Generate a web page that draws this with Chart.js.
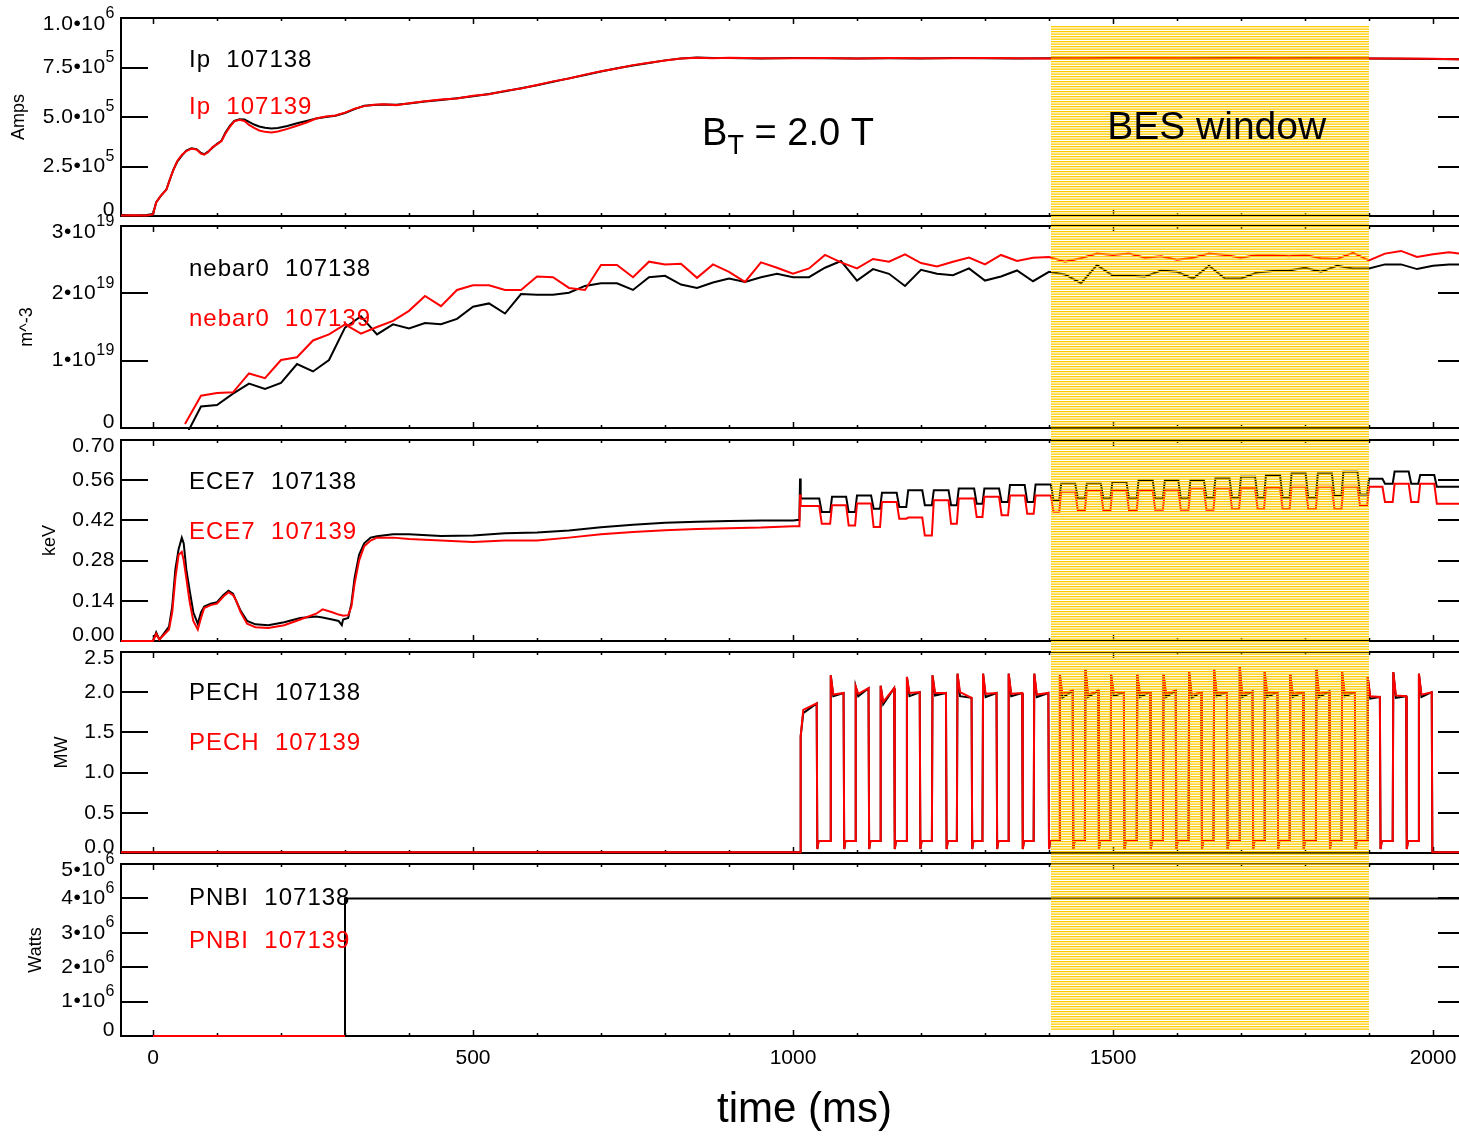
<!DOCTYPE html>
<html>
<head>
<meta charset="utf-8">
<title>Shots 107138 / 107139</title>
<script src="https://cdn.jsdelivr.net/npm/chart.js@4.4.1/dist/chart.umd.min.js"></script>
<style>
  html, body { margin: 0; padding: 0; background: #fff; overflow: hidden; }
  #page { position: relative; width: 1470px; height: 1136px; }
  .panel { position: absolute; left: 0; width: 1470px; }
  #overlay { position: absolute; left: 0; top: 0; z-index: 5; pointer-events: none; }
</style>
</head>
<body>
<div id="page"></div>
<script>
// ---- data ----
const shots = ['107138', '107139'];
const xTickValues = [0, 500, 1000, 1500, 2000];
const besWindow = [1403, 1900];

// Ip, in units of 1e5 A
const ipTime = [-50,-30,-10,0,5,12,21,27,32,38, 45,52,60,68,75,80,86,93,100,107,
  113,120,127,135,143,150,158,166,175,185, 195,210,225,240,255,270,285,300,315,330,
  345,360,380,400,425,450,475,500,525,550, 575,600,625,650,675,700,725,750,775,800,
  825,850,875,900,950,1000,1050,1100,1150,1200, 1250,1300,1350,1400,1450,1500,1550,1600,1650,1700,
  1750,1800,1850,1900,1950,2000,2050];
const ipBlack = [0.05,0.02,0.05,0.10,0.70,1.00,1.35,1.90,2.35,2.75, 3.05,3.30,3.42,3.38,3.18,3.12,3.25,3.45,3.65,3.80,
  4.20,4.55,4.80,4.88,4.87,4.75,4.62,4.52,4.46,4.42, 4.45,4.55,4.68,4.80,4.93,5.00,5.06,5.20,5.40,5.57,
  5.60,5.63,5.62,5.68,5.78,5.86,5.95,6.05,6.16,6.30, 6.45,6.60,6.78,6.95,7.12,7.30,7.46,7.60,7.73,7.86,
  7.95,8.00,7.98,7.98,7.96,7.98,7.97,7.95,7.97,7.96, 7.98,7.97,7.96,7.97,7.96,7.98,7.97,7.96,7.97,7.98,
  7.96,7.97,7.96,7.95,7.94,7.93,7.92];
const ipRed = [0.03,0.04,0.02,0.08,0.68,1.02,1.33,1.92,2.33,2.78, 3.08,3.28,3.40,3.36,3.15,3.10,3.22,3.48,3.62,3.78,
  4.15,4.50,4.78,4.86,4.80,4.60,4.45,4.32,4.25,4.22, 4.27,4.40,4.56,4.72,4.92,5.02,5.08,5.22,5.42,5.55,
  5.62,5.65,5.60,5.70,5.80,5.88,5.94,6.07,6.15,6.32, 6.44,6.62,6.80,6.94,7.14,7.31,7.45,7.62,7.74,7.85,
  7.96,7.99,7.97,7.99,7.97,7.97,7.98,7.96,7.98,7.97, 7.97,7.98,7.97,7.96,7.97,7.97,7.98,7.97,7.96,7.97,
  7.97,7.96,7.97,7.96,7.95,7.94,7.91];

// nebar0, in units of 1e19 m^-3
const nebarTime = [50,75,100,125,150,175,200,225,250,275, 300,325,350,375,400,425,450,475,500,525,
  550,575,600,625,650,675,700,725,750,775, 800,825,850,875,900,925,950,975,1000,1025,
  1050,1075,1100,1125,1150,1175,1200,1225,1250,1275, 1300,1325,1350,1375,1400,1425,1450,1475,1500,1525,
  1550,1575,1600,1625,1650,1675,1700,1725,1750,1775, 1800,1825,1850,1875,1900,1925,1950,1975,2000,2025,
  2050];
const nebarBlack = [-0.14,0.32,0.34,0.51,0.66,0.58,0.67,0.95,0.84,1.01, 1.49,1.66,1.39,1.54,1.48,1.56,1.54,1.62,1.80,1.85,
  1.70,1.99,1.98,1.98,2.01,2.11,2.15,2.15,2.05,2.24, 2.26,2.13,2.08,2.16,2.22,2.17,2.24,2.29,2.24,2.24,
  2.38,2.48,2.19,2.36,2.29,2.11,2.35,2.29,2.27,2.37, 2.19,2.25,2.34,2.18,2.32,2.28,2.15,2.42,2.26,2.26,
  2.25,2.34,2.32,2.22,2.41,2.22,2.22,2.31,2.33,2.34, 2.38,2.32,2.41,2.37,2.37,2.43,2.43,2.36,2.41,2.43,
  2.43];
const nebarRed = [0.06,0.48,0.52,0.53,0.81,0.74,1.01,1.05,1.30,1.39, 1.54,1.40,1.50,1.59,1.74,1.96,1.81,2.05,2.12,2.12,
  2.05,2.05,2.25,2.24,2.08,2.05,2.42,2.42,2.24,2.47, 2.43,2.44,2.23,2.43,2.32,2.17,2.46,2.38,2.29,2.37,
  2.57,2.46,2.37,2.51,2.47,2.58,2.45,2.40,2.47,2.53, 2.43,2.57,2.48,2.53,2.54,2.47,2.52,2.59,2.57,2.59,
  2.53,2.55,2.50,2.53,2.59,2.57,2.53,2.57,2.57,2.55, 2.57,2.52,2.51,2.60,2.49,2.59,2.63,2.54,2.58,2.61,
  2.58];

// ECE7 before ECH (keV)
const eceTime = [-50,0,5,10,25,30,35,40,45,48, 52,57,63,70,75,80,90,100,110,118,
  125,130,137,147,160,180,205,230,255,265, 280,290,295,297,305,310,315,322,330,340,
  350,375,400,450,500,550,600,650,700,750, 800,850,900,950,1000,1010,1011,1012];
const eceBlackPre = [0.00,0.00,0.03,0.005,0.05,0.12,0.25,0.32,0.36,0.34, 0.25,0.18,0.10,0.06,0.10,0.12,0.13,0.135,0.16,0.175,
  0.165,0.14,0.105,0.07,0.058,0.055,0.065,0.08,0.085,0.082, 0.075,0.07,0.055,0.075,0.08,0.13,0.22,0.30,0.34,0.36,
  0.365,0.372,0.372,0.366,0.367,0.375,0.378,0.385,0.396,0.405, 0.412,0.415,0.418,0.42,0.42,0.422,0.566,0.50];
const eceRedPre = [0.00,0.00,0.025,0.005,0.04,0.10,0.22,0.30,0.31,0.28, 0.22,0.14,0.07,0.04,0.08,0.115,0.125,0.13,0.155,0.17,
  0.16,0.14,0.10,0.06,0.048,0.045,0.055,0.075,0.095,0.11, 0.10,0.092,0.09,0.088,0.09,0.12,0.20,0.28,0.33,0.35,
  0.36,0.36,0.355,0.35,0.345,0.35,0.35,0.36,0.372,0.38, 0.386,0.39,0.393,0.395,0.40,0.40,0.51,0.47];

// ECH pulses (ms) and ECE7 levels during / between them
const pulseOn  = [1011,1058,1097,1136,1177,1217,1256,1296,1336,1376,1416,1456,1496,1537,1578,1618,1657,1697,1736,1776,1817,1857,1897,1937,1977];
const pulseOff = [1037,1079,1118,1158,1198,1239,1279,1318,1358,1399,1437,1477,1517,1558,1598,1638,1678,1718,1757,1797,1838,1878,1917,1958,1998];
const eceBlackHigh = [0.496,0.502,0.507,0.516,0.525,0.525,0.531,0.531,0.543,0.545,0.548,0.548,0.554,0.56,0.56,0.56,0.566,0.572,0.578,0.583,0.583,0.589,0.565,0.59,0.578];
const eceBlackLow  = [0.449,0.449,0.461,0.467,0.473,0.473,0.478,0.484,0.484,0.49,0.496,0.496,0.496,0.496,0.496,0.50,0.50,0.50,0.50,0.50,0.505,0.51,0.548,0.548,0.537];
const eceRedHigh   = [0.47,0.473,0.479,0.484,0.43,0.49,0.496,0.502,0.507,0.507,0.52,0.522,0.525,0.525,0.527,0.53,0.53,0.532,0.535,0.537,0.537,0.537,0.537,0.548,0.548];
const eceRedLow    = [0.408,0.402,0.397,0.426,0.367,0.408,0.432,0.438,0.443,0.45,0.455,0.455,0.455,0.457,0.457,0.457,0.46,0.46,0.46,0.46,0.46,0.47,0.484,0.484,0.478];

// PECH (MW) per pulse
const pechPeak     = [1.45,2.21,2.07,2.08,2.19,2.21,2.23,2.23,2.23,2.23,2.21,2.28,2.22,2.22,2.22,2.25,2.28,2.32,2.25,2.22,2.28,2.25,2.19,2.25,2.23];
const pechDipRed   = [1.78,1.97,1.98,1.88,1.99,1.99,2.00,1.98,1.98,1.97,1.98,1.97,2.00,1.99,1.98,1.97,1.99,1.98,1.99,1.98,1.98,1.99,1.95,1.96,1.97];
const pechDipBlack = [1.74,1.95,1.95,1.85,1.95,1.96,1.95,1.94,1.95,1.94,1.93,1.94,1.95,1.94,1.94,1.93,1.95,1.94,1.94,1.94,1.94,1.95,1.92,1.93,1.94];
const pechEnd      = [1.86,1.99,2.05,2.05,2.00,1.99,1.93,1.99,1.99,1.99,2.02,2.02,2.00,2.00,2.02,2.00,2.00,2.01,2.00,2.00,2.01,2.00,1.94,1.95,2.00];
const pechIdle = 0.01, pechOffDip = 0.05, pechOffLevel = 0.15;

// PNBI, in units of 1e6 W
const pnbiTime = [0, 300, 300, 2050];
const pnbiBlack = [0, 0, 4.0, 4.0];
const pnbiRedTime = [0, 300];
const pnbiRed = [0, 0];

// ---- helpers ----
const FONT = "'Liberation Sans', Arial, Helvetica, sans-serif";
Chart.defaults.font.family = FONT;
Chart.defaults.color = '#000';

function zipPts(t, v) { return t.map((x, i) => ({x: x, y: v[i]})); }

function eceTrace(preV, high, low) {
  const pts = zipPts(eceTime, preV);
  pulseOn.forEach((on, i) => {
    const off = pulseOff[i];
    if (i > 0) pts.push({x: on, y: low[i - 1]});
    pts.push({x: on + 3, y: high[i]}, {x: off + 4, y: high[i]}, {x: off + 8, y: low[i]});
  });
  pts.push({x: 2050, y: low[low.length - 1]});
  return pts;
}

function pechTrace(dip) {
  const pts = [{x: -50, y: pechIdle}, {x: pulseOn[0], y: pechIdle}];
  pulseOn.forEach((on, i) => {
    const off = pulseOff[i];
    const last = i === pulseOn.length - 1;
    if (i > 0) pts.push({x: on, y: pechOffLevel});
    pts.push({x: on + 1, y: pechPeak[i]}, {x: on + 5, y: dip[i]}, {x: off, y: pechEnd[i]});
    if (last) pts.push({x: off + 1, y: pechIdle});
    else pts.push({x: off + 1, y: pechOffDip}, {x: off + 3, y: pechOffLevel});
  });
  pts.push({x: 2050, y: pechIdle});
  return pts;
}

// ---- panels ----
const panels = [
  {name: 'Ip', divTop: 4, divHeight: 226, min: 0, max: 10, unit: 'Amps', unitPad: 8,
   ticks: [0, 2.5, 5, 7.5, 10], tickLabels: ['0', '2.5•10^5', '5.0•10^5', '7.5•10^5', '1.0•10^6'],
   labelDy: [42, 89], black: zipPts(ipTime, ipBlack), red: zipPts(ipTime, ipRed)},
  {name: 'nebar0', divTop: 212, divHeight: 230, min: 0, max: 3, unit: 'm^-3', unitPad: 16,
   ticks: [0, 1, 2, 3], tickLabels: ['0', '1•10^19', '2•10^19', '3•10^19'],
   labelDy: [43, 93], black: zipPts(nebarTime, nebarBlack), red: zipPts(nebarTime, nebarRed)},
  {name: 'ECE7', divTop: 426, divHeight: 229, min: 0, max: 0.70, unit: 'keV', unitPad: 39,
   ticks: [0, 0.14, 0.28, 0.42, 0.56, 0.70], tickLabels: ['0.00', '0.14', '0.28', '0.42', '0.56', '0.70'],
   labelDy: [42, 92], black: eceTrace(eceBlackPre, eceBlackHigh, eceBlackLow), red: eceTrace(eceRedPre, eceRedHigh, eceRedLow)},
  {name: 'PECH', divTop: 638, divHeight: 229, min: 0, max: 2.5, unit: 'MW', unitPad: 51,
   ticks: [0, 0.5, 1, 1.5, 2, 2.5], tickLabels: ['0.0', '0.5', '1.0', '1.5', '2.0', '2.5'],
   labelDy: [41, 91], black: pechTrace(pechDipBlack), red: pechTrace(pechDipRed)},
  {name: 'PNBI', divTop: 850, divHeight: 286, min: 0, max: 5, unit: 'Watts', unitPad: 25,
   ticks: [0, 1, 2, 3, 4, 5], tickLabels: ['0', '1•10^6', '2•10^6', '3•10^6', '4•10^6', '5•10^6'],
   labelDy: [34, 77], black: zipPts(pnbiTime, pnbiBlack), red: zipPts(pnbiRedTime, pnbiRed)}
];

// IDL-style frame: box and inward ticks under the traces, labels on top
function frame(p) {
  return {
    id: 'idlFrame',
    beforeDatasetsDraw(chart) {
      const ctx = chart.ctx, a = chart.chartArea;
      const xs = chart.scales.x, ys = chart.scales.y;
      ctx.save();
      ctx.strokeStyle = '#000';
      ctx.lineWidth = 2;
      ctx.strokeRect(a.left, a.top, a.right - a.left, a.bottom - a.top);
      ctx.beginPath();
      p.ticks.forEach(v => {
        const py = Math.round(ys.getPixelForValue(v));
        ctx.moveTo(a.left, py); ctx.lineTo(a.left + 27, py);
        ctx.moveTo(a.right - 27, py); ctx.lineTo(a.right, py);
      });
      ctx.stroke();
      ctx.lineWidth = 1.5;
      ctx.beginPath();
      for (let t = 0; t <= 2000; t += 100) {
        const px = Math.round(xs.getPixelForValue(t)) + 0.5;
        const len = t % 500 === 0 ? 6 : 3;
        ctx.moveTo(px, a.top); ctx.lineTo(px, a.top + len);
        ctx.moveTo(px, a.bottom); ctx.lineTo(px, a.bottom - len);
      }
      ctx.stroke();
      ctx.restore();
    },
    afterDatasetsDraw(chart) {
      const ctx = chart.ctx, a = chart.chartArea;
      const ys = chart.scales.y;
      ctx.save();
      ctx.fillStyle = '#000';
      ctx.textAlign = 'left';
      ctx.textBaseline = 'middle';
      ctx.letterSpacing = '0.5px';
      const n = p.ticks.length;
      p.tickLabels.forEach((lab, i) => {
        let py = ys.getPixelForValue(p.ticks[i]);
        if (i === 0) py -= 6; else if (i === n - 1) py += 6;
        const parts = lab.split('^');
        ctx.font = '21px ' + FONT;
        const wb = ctx.measureText(parts[0]).width;
        ctx.font = '16px ' + FONT;
        const we = parts[1] ? ctx.measureText(parts[1]).width : 0;
        const x0 = a.left - 6 - wb - we;
        ctx.font = '21px ' + FONT;
        ctx.fillText(parts[0], x0, py);
        if (parts[1]) { ctx.font = '16px ' + FONT; ctx.fillText(parts[1], x0 + wb, py - 10); }
      });

      ctx.letterSpacing = '1px';
      ctx.font = '24px ' + FONT;
      ctx.fillStyle = '#000';
      ctx.fillText(p.name + '  ' + shots[0], a.left + 68, a.top + p.labelDy[0]);
      ctx.fillStyle = '#ff0000';
      ctx.fillText(p.name + '  ' + shots[1], a.left + 68, a.top + p.labelDy[1]);
      ctx.restore();
    }
  };
}

const page = document.getElementById('page');
const charts = panels.map((p, i) => {
  const last = i === panels.length - 1;
  const div = document.createElement('div');
  div.className = 'panel';
  div.style.top = p.divTop + 'px';
  div.style.height = p.divHeight + 'px';
  const cv = document.createElement('canvas');
  div.appendChild(cv);
  page.appendChild(div);
  const xScale = {
    type: 'linear', min: -50, max: 2050, display: last,
    grid: {display: false}, border: {display: false},
    ticks: {font: {size: 21}, padding: 2, maxRotation: 0, autoSkip: false, callback: v => String(v)},
    afterBuildTicks: s => { s.ticks = xTickValues.map(v => ({value: v})); }
  };
  if (last) xScale.afterFit = s => { s.height = 100; };
  const line = {pointRadius: 0, tension: 0, borderWidth: 2, clip: {left: 0, top: 1, right: 0, bottom: 2}};
  return new Chart(cv, {
    type: 'line',
    data: {datasets: [
      Object.assign({label: p.name + ' ' + shots[1], data: p.red, borderColor: '#ff0000', order: 1}, line),
      Object.assign({label: p.name + ' ' + shots[0], data: p.black, borderColor: '#000000', order: 2}, line)
    ]},
    options: {
      responsive: true,
      maintainAspectRatio: false,
      animation: false,
      events: [],
      layout: {padding: {top: 14, bottom: last ? 0 : 14, left: 0, right: 5}},
      plugins: {legend: {display: false}, tooltip: {enabled: false}},
      scales: {
        x: xScale,
        y: {
          min: p.min, max: p.max,
          ticks: {display: false}, grid: {display: false}, border: {display: false},
          afterFit: s => { s.width = 121; },
          title: {display: true, text: p.unit, font: {size: 18}, padding: {top: p.unitPad, bottom: 0}}
        }
      }
    },
    plugins: [frame(p)]
  });
});

// BES window hatch and annotations on top of all panels
const ov = document.createElement('canvas');
ov.id = 'overlay';
ov.width = 1470;
ov.height = 1136;
page.appendChild(ov);
const octx = ov.getContext('2d');
const xs = charts[charts.length - 1].scales.x;
const bx0 = Math.round(xs.getPixelForValue(besWindow[0]));
const bx1 = Math.round(xs.getPixelForValue(besWindow[1]));
octx.fillStyle = '#ffcc00';
for (let y = 26; y < 1030; y += 2.5) octx.fillRect(bx0, y, bx1 - bx0, 1.3);

octx.fillStyle = '#000';
octx.textBaseline = 'middle';
octx.textAlign = 'center';
octx.font = '39px ' + FONT;
octx.fillText('BES window', xs.getPixelForValue(1662), 128);
octx.font = '42px ' + FONT;
octx.fillText('time (ms)', xs.getPixelForValue(1018), 1110);

octx.textAlign = 'left';
let bx = xs.getPixelForValue(858);
octx.font = '38px ' + FONT;
octx.fillText('B', bx, 135);
bx += octx.measureText('B').width;
octx.font = '27px ' + FONT;
octx.fillText('T', bx, 147);
bx += octx.measureText('T').width;
octx.font = '38px ' + FONT;
octx.fillText(' = 2.0 T', bx, 135);
</script>
</body>
</html>
